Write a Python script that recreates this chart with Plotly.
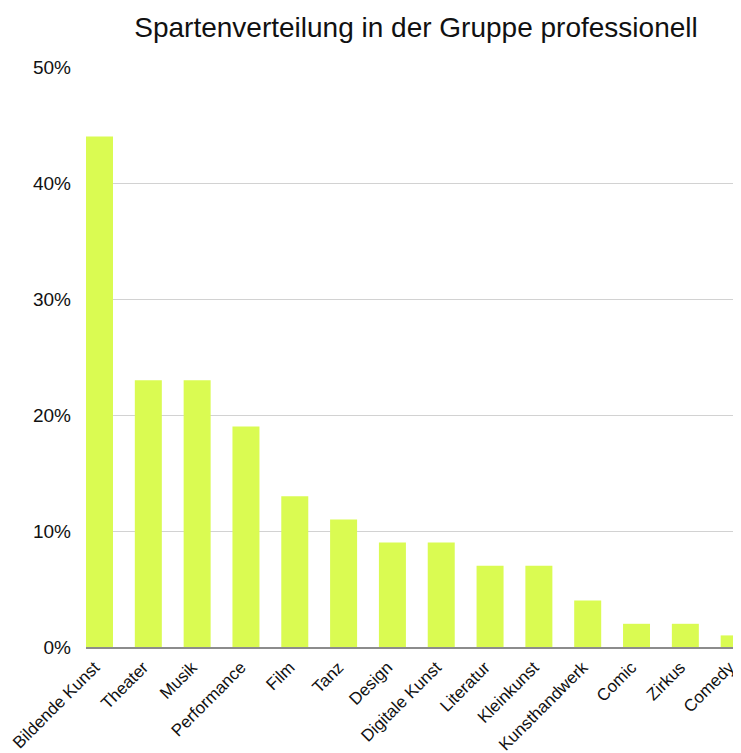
import plotly.graph_objects as go

categories = ["Bildende Kunst", "Theater", "Musik", "Performance", "Film", "Tanz", "Design",
              "Digitale Kunst", "Literatur", "Kleinkunst", "Kunsthandwerk", "Comic", "Zirkus", "Comedy"]
values = [0.44, 0.23, 0.23, 0.19, 0.13, 0.11, 0.09, 0.09, 0.07, 0.07, 0.04, 0.02, 0.02, 0.01]
y_ticks = [0, 0.1, 0.2, 0.3, 0.4, 0.5]
y_ticklabels = ["0%", "10%", "20%", "30%", "40%", "50%"]

FONT = "Liberation Sans, Helvetica, Arial, sans-serif"
OFF = 8  # page body margin

fig = go.Figure(go.Bar(
    x=list(range(len(categories))),
    y=values,
    marker=dict(color="#DAFB52", line=dict(width=0)),
    width=0.553,
    hoverinfo="skip",
))

fig.update_layout(
    width=741, height=753,
    margin=dict(l=86 - OFF, r=OFF, t=67 - OFF, b=106 + OFF, autoexpand=False),
    paper_bgcolor="white", plot_bgcolor="white",
    showlegend=False,
    title=dict(text="Spartenverteilung in der Gruppe professionell",
               x=(416 - OFF) / 741, xanchor="center", xref="container",
               y=1 - (27 - OFF) / 753, yanchor="middle", yref="container",
               font=dict(family=FONT, size=28, color="#111111")),
    font=dict(family=FONT, color="#111111"),
)

fig.update_xaxes(
    tickmode="array",
    tickvals=list(range(len(categories))),
    ticktext=categories,
    tickangle=-45,
    tickfont=dict(size=17, color="#111111"),
    range=[-0.2765, 13.14],
    showgrid=False,
    showline=True, linecolor="#8c8c8c", linewidth=1.5,
    ticks="", zeroline=False, automargin=False,
    ticklabelshift=-5, ticklabelstandoff=2,
)

fig.update_yaxes(
    tickmode="array",
    tickvals=y_ticks,
    ticktext=y_ticklabels,
    range=[0, 0.5],
    tickfont=dict(size=19, color="#111111"),
    showgrid=True, gridcolor="#d2d2d2", gridwidth=1,
    zeroline=False, showline=False, ticks="",
    ticklabelstandoff=14, automargin=False,
)

fig.write_html("out.html")
